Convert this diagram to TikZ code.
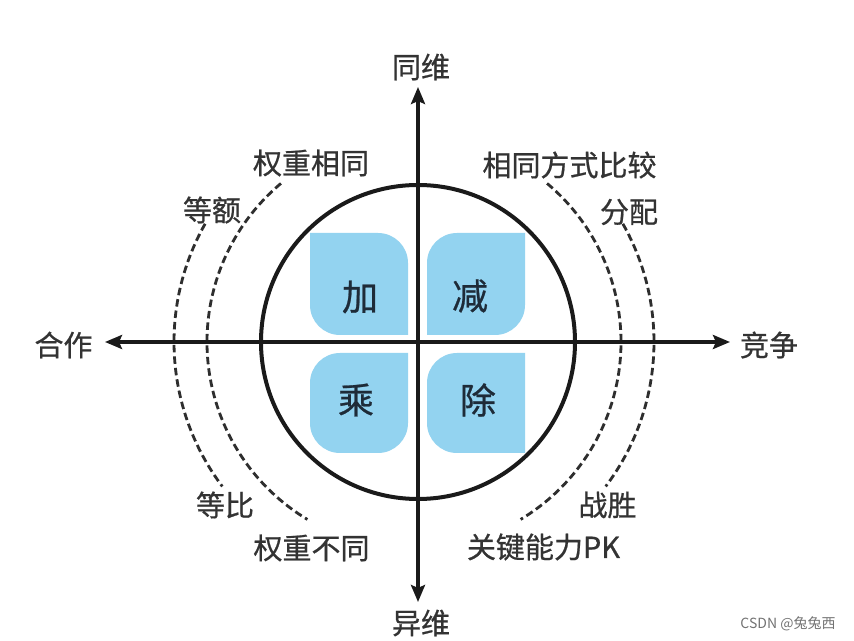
\documentclass[tikz,border=0pt]{standalone}
\usepackage{fontspec}
\newfontfamily\cjk[FakeBold=0.7]{Noto Sans CJK SC}
\newfontfamily\cjkplain{Noto Sans CJK SC}
\usetikzlibrary{arrows.meta}
\definecolor{petal}{HTML}{93D3F0}
\definecolor{ink}{HTML}{333333}
\definecolor{petalink}{HTML}{1E2B38}
\definecolor{lineink}{HTML}{1A1A1A}
\definecolor{dashink}{HTML}{2E2E2E}
\begin{document}
\begin{tikzpicture}[x=1pt,y=1pt,
  lbl/.style={font=\cjk\fontsize{29}{29}\selectfont, text=ink, inner sep=0pt},
  petaltxt/.style={font=\cjk\fontsize{36}{36}\selectfont, text=petalink, inner sep=0pt},
  axisline/.style={line width=4pt, draw=lineink, {Stealth[length=17pt,width=14pt,inset=3pt]}-{Stealth[length=17pt,width=14pt,inset=3pt]}},
  dasharc/.style={line width=2.8pt, draw=dashink, dash pattern=on 7.5pt off 4pt},
  petalfill/.style={fill=petal}]
\useasboundingbox (0,0) rectangle (854,640);
\fill[white] (0,0) rectangle (854,640);

% petals
\fill[petalfill] (310,407) -- (378,407) arc[start angle=90,end angle=0,radius=30]
  -- (408,305) -- (340,305) arc[start angle=270,end angle=180,radius=30] -- cycle;
\fill[petalfill] (525,407) -- (457,407) arc[start angle=90,end angle=180,radius=30]
  -- (427,305) -- (495,305) arc[start angle=270,end angle=360,radius=30] -- cycle;
\fill[petalfill] (408,287) -- (340,287) arc[start angle=90,end angle=180,radius=30]
  -- (310,217) arc[start angle=180,end angle=270,radius=30]
  -- (378,187) arc[start angle=270,end angle=360,radius=30] -- cycle;
\fill[petalfill] (525,287) -- (457,287) arc[start angle=90,end angle=180,radius=30]
  -- (427,217) arc[start angle=180,end angle=270,radius=30]
  -- (525,187) -- cycle;

\node[petaltxt] (jia) at (360,343) {加};
\node[petaltxt] (jian) at (470,344) {减};
\node[petaltxt] (cheng) at (356,240) {乘};
\node[petaltxt] (chu) at (478,240) {除};

% circle
\coordinate (O) at (418,298);
\draw[line width=4pt, draw=lineink] (O) circle[radius=157];

% dashed arcs
\coordinate (C) at (414,298);
\draw[dasharc] ([shift={(50:207)}]C) arc[start angle=50,end angle=-59,radius=207];
\draw[dasharc] ([shift={(29.5:240)}]C) arc[start angle=29.5,end angle=-37,radius=240];
\draw[dasharc] ([shift={(130:207)}]C) arc[start angle=130,end angle=239,radius=207];
\draw[dasharc] ([shift={(150.5:240)}]C) arc[start angle=150.5,end angle=217,radius=240];

% axes
\coordinate (tp) at (418,553);
\coordinate (bt) at (418,38);
\coordinate (lf) at (105,298);
\coordinate (rt) at (730,298);
\draw[axisline] (bt) -- (tp);
\draw[axisline] (lf) -- (rt);

% labels
\node[lbl] (tongwei) at (421,573) {同维};
\node[lbl] (yiwei) at (421,17) {异维};
\node[lbl] (hezuo) at (63.5,295) {合作};
\node[lbl] (jingzheng) at (769,295) {竞争};
\node[lbl] (qzxt) at (311,477) {权重相同};
\node[lbl] (xtfs) at (569.5,475) {相同方式比较};
\node[lbl] (fenpei) at (629,428) {分配};
\node[lbl] (denge) at (212,430) {等额};
\node[lbl] (dengbi) at (225,135) {等比};
\node[lbl] (qzbt) at (311.5,92) {权重不同};
\node[lbl] (zhansheng) at (607.5,135) {战胜};
\node[lbl] (gjnl) at (543.5,93) {关键能力PK};

\node[font=\cjkplain\fontsize{14}{14}\selectfont, text=black!55, inner sep=0pt] (wm) at (788,16) {CSDN @兔兔西};
\end{tikzpicture}
\end{document}
